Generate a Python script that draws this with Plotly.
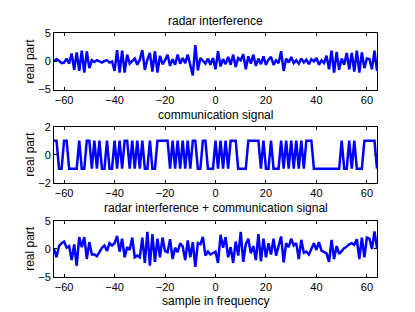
import plotly.graph_objects as go

samples = list(range(-64, 65))

radar_real = [
    0.0, 0.4, 0.1, -0.3, -0.2, 0.5, -0.4, 1.4, -1.5, 1.6, -1.7, 1.9, -2.0, 1.8, -1.2, 0.2,
    -0.1, 0.2, 0.0, -0.2, 0.1, 0.2, -0.2, 0.0, -1.7, 2.0, -2.0, 1.9, -2.0, 1.2, -0.4, 0.1,
    0.5, -0.6, 0.3, 2.0, -1.5, 0.3, 1.5, -1.8, 1.8, -2.0, 1.0, -0.5, 0.2, 1.2, -0.8, 0.4,
    -0.6, 1.2, -0.4, 0.6, -0.3, 1.2, -0.6, -2.5, 2.9, -1.6, 0.6, 0.1, -0.4, 0.5, -0.6, 0.6,
    -1.4, 1.8, -0.9, 0.4, -0.5, 0.8, -0.6, 1.2, -1.0, 0.6, 0.2, 1.3, -1.4, 0.9, -0.4, 1.2,
    -0.8, 0.5, -0.5, 0.9, -0.6, 0.3, 0.8, -0.6, 0.2, -0.3, 1.8, -1.7, 0.5, -0.2, 0.8, -0.3,
    0.2, -0.4, 0.5, -0.2, 0.3, -0.5, 0.4, 0.0, 0.6, -0.6, 0.2, -0.3, 1.0, -1.4, 1.9, -2.0,
    1.7, -1.5, 0.5, -0.6, 1.5, -1.4, 1.5, -1.8, 1.9, -2.0, 1.6, -1.2, 0.5, 0.4, -1.4, 1.9,
    -1.7,
]

comm_real = [
    1, 1, -1, -1, 1, 1, -1, -1, -1, -1, 1, -1, -1, 1, 1, -1,
    1, -1, 1, -1, -1, 1, -1, -1, 1, -1, 1, -1, 1, 1, -1, 1,
    -1, 1, -1, 1, -1, -1, 1, -1, -1, 1, 1, 1, 1, 1, -1, 1,
    -1, 1, -1, 1, -1, 1, -1, 1, 1, -1, -1, 1, 1, -1, -1, -1,
    1, -1, 1, -1, 1, -1, 1, 1, 1, -1, -1, -1, -1, 1, 1, 1,
    1, 1, -1, 1, -1, -1, 1, -1, -1, -1, 1, -1, 1, -1, 1, -1,
    1, -1, 1, -1, 1, 1, 1, -1, -1, -1, -1, -1, -1, -1, -1, -1,
    -1, -1, 1, -1, -1, 1, -1, 1, -1, -1, -1, 1, 1, 1, 1, 1,
    -1,
]

combined_real = [
    0.0, -1.5, 0.5, 1.0, 1.3, 0.2, 0.5, -2.0, 0.8, -3.0, 2.1, 0.3, 2.1, -1.8, 1.2, -1.0,
    -1.0, -1.3, -0.6, 0.2, 0.6, -0.4, 1.0, 0.6, 1.0, 2.3, -0.5, 1.8, -1.5, 0.3, -0.2, 2.0,
    -1.5, -1.2, -1.5, 2.0, -2.5, 3.0, -3.0, 2.6, -2.3, 1.8, -1.5, 2.0, -0.4, -0.6, 1.7, -1.8,
    0.2, -0.6, 1.0, 0.4, -2.0, 1.5, -1.5, 1.2, -3.2, 1.0, 0.8, 2.1, -1.2, -0.5, -1.0, -0.8,
    -0.5, -2.5, 2.5, 0.2, 2.1, -1.5, 0.3, -2.5, 1.3, -1.2, 3.0, -2.3, 0.8, 1.8, -0.8, 0.5,
    -2.0, 2.6, -2.2, 1.8, -1.5, 1.0, -1.0, 1.8, -1.2, 0.5, 2.2, -2.4, 1.0, 0.3, 1.8, 0.6,
    1.0, -1.8, 1.6, -0.7, -0.5, -1.0, 0.0, 1.0, -0.2, 1.2, -0.3, -0.5, -0.8, -2.3, 1.6, -1.8,
    0.5, -0.9, -0.3, 0.1, 0.4, 0.8, 1.0, 0.7, 1.7, -1.8, 2.0, -1.5, 2.0, 1.8, 0.0, 3.1,
    0.1,
]

titles = ["radar interference", "communication signal",
          "radar interference + communication signal"]
y_ticks = [[-5, 0, 5], [-2, 0, 2], [-5, 0, 5]]
x_ticks = [-60, -40, -20, 0, 20, 40, 60]
x_label = "sample in frequency"
y_label = "real part"

FONT = "Liberation Sans, Arial, Helvetica, sans-serif"
OFF = 8  # the page body margin shifts the figure by 8 px
W, H = 415 - OFF, 312 - OFF
ML, MR, MT, MB = 54 - OFF, 38, 33 - OFF, 35
PH = H - MT - MB
PW = W - ML - MR

def py(px):
    return (H - MB - (px - OFF)) / PH

def px_(x):
    return ((x - OFF) - ML) / PW

# pixel rows of each axes in the window (top, bottom)
rows = [(33.3, 89.5), (126.7, 182.7), (220.7, 277.0)]
title_y = [21, 115, 208.3]

fig = go.Figure()
series = [radar_real, comm_real, combined_real]
for i, s in enumerate(series):
    fig.add_trace(go.Scatter(
        x=samples, y=s, mode="lines",
        line=dict(color="#0000ff", width=2.5),
        xaxis="x" if i == 0 else f"x{i+1}",
        yaxis="y" if i == 0 else f"y{i+1}",
        showlegend=False, hoverinfo="skip",
    ))

axis_common = dict(
    showline=True, mirror="ticks", linecolor="#000000", linewidth=1,
    ticks="inside", ticklen=3, tickcolor="#000000", tickwidth=1,
    showgrid=False, zeroline=False,
    tickfont=dict(family=FONT, size=11, color="#000000"),
)

layout = dict(
    width=W, height=H,
    margin=dict(l=ML, r=MR, t=MT, b=MB, pad=0),
    paper_bgcolor="white", plot_bgcolor="white",
    showlegend=False,
    annotations=[],
)
for i in range(3):
    top, bot = rows[i]
    xk = "xaxis" if i == 0 else f"xaxis{i+1}"
    yk = "yaxis" if i == 0 else f"yaxis{i+1}"
    yref = "y" if i == 0 else f"y{i+1}"
    xref = "x" if i == 0 else f"x{i+1}"
    layout[xk] = dict(axis_common, range=[-64, 64], tickvals=x_ticks,
                      domain=[0, 1], anchor=yref)
    yt = y_ticks[i]
    layout[yk] = dict(axis_common, range=[yt[0], yt[-1]], tickvals=yt,
                      domain=[max(0, py(bot)), min(1, py(top))], anchor=xref)
    layout["annotations"].append(dict(
        text=titles[i], xref="paper", yref="paper", x=0.5, y=py(title_y[i]),
        xanchor="center", yanchor="middle", showarrow=False,
        font=dict(family=FONT, size=12, color="#000000")))
    layout["annotations"].append(dict(
        text=y_label, xref="paper", yref="paper", x=px_(30),
        y=py((top + bot) / 2), xanchor="center", yanchor="middle",
        textangle=-90, showarrow=False,
        font=dict(family=FONT, size=12, color="#000000")))
layout["annotations"].append(dict(
    text=x_label, xref="paper", yref="paper", x=0.5, y=py(300.5),
    xanchor="center", yanchor="middle", showarrow=False,
    font=dict(family=FONT, size=12, color="#000000")))

fig.update_layout(**layout)
fig.write_html("out.html")
